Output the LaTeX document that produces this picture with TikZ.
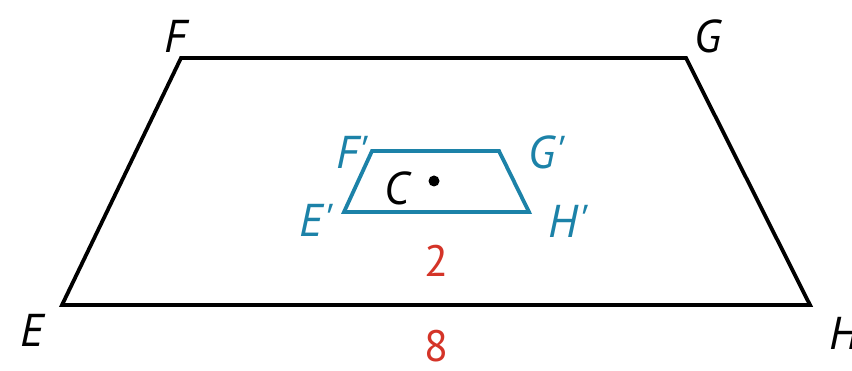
\documentclass[tikz,border=0pt]{standalone}
\usepackage{fontspec}
\setmainfont{PT Sans}
\definecolor{teal1}{RGB}{28,130,168}
\definecolor{red1}{RGB}{212,52,40}
\newcommand{\pr}{\textquotesingle}
\begin{document}
\begin{tikzpicture}[x=1pt,y=-1pt,
  lab/.style={font=\fontsize{46}{46}\selectfont\itshape, inner sep=0pt},
  tlab/.style={lab, text=teal1},
  num/.style={font=\fontsize{44}{44}\selectfont, inner sep=0pt, text=red1},
  outer/.style={draw=black, line width=3.8pt, line join=miter},
  inner/.style={draw=teal1, line width=3.8pt, line join=miter}]
\useasboundingbox (0,0) rectangle (852,371);
\coordinate (E) at (62,305);
\coordinate (F) at (181,58);
\coordinate (G) at (686,58);
\coordinate (H) at (810,305);
\coordinate (E1) at (344,212);
\coordinate (F1) at (372,151);
\coordinate (G1) at (499,151);
\coordinate (H1) at (529,212);
\draw[outer] (E) -- (F) -- (G) -- (H) -- cycle;
\draw[inner] (E1) -- (F1) -- (G1) -- (H1) -- cycle;
\fill (434,181) circle (5.5pt) coordinate (C);
\node[lab] (lF) at (176,36) {F};
\node[lab] (lG) at (708,36) {G};
\node[lab] (lE) at (32,330) {E};
\node[lab] (lH) at (844,333) {H};
\node[tlab] (lF1) at (352,152) {F\pr};
\node[tlab] (lG1) at (547,152) {G\pr};
\node[tlab] (lE1) at (316,220) {E\pr};
\node[tlab] (lH1) at (568,221) {H\pr};
\node[lab] (lC) at (397,188) {C};
\node[num] (n2) at (436,261) {2};
\node[num] (n8) at (436,346) {8};
\end{tikzpicture}
\end{document}
